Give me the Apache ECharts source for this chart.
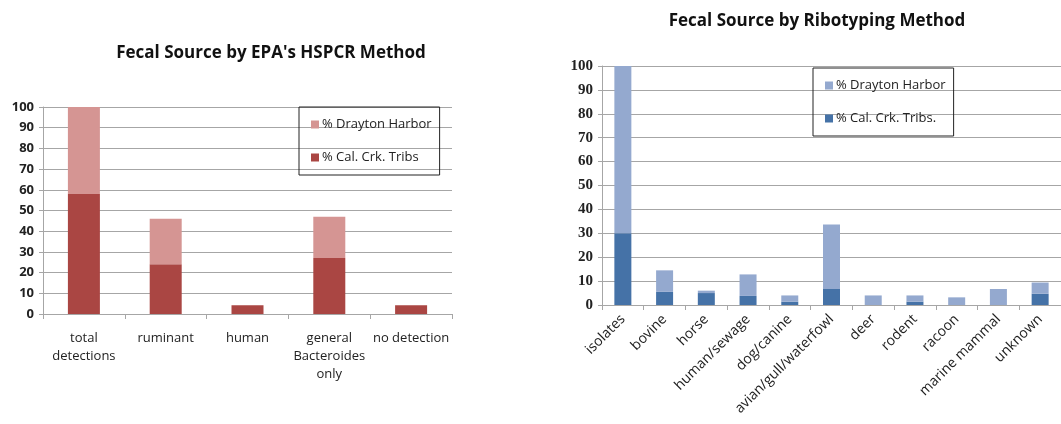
<!DOCTYPE html>
<html>
<head>
<meta charset="utf-8">
<script src="https://cdn.jsdelivr.net/npm/echarts@6/dist/echarts.min.js"></script>
<style>
  html, body { margin: 0; padding: 0; background: #fff; }
  #wrap { width: 1061px; height: 424px; position: relative; overflow: hidden; }
  #left { position: absolute; left: 0; top: 0; width: 530px; height: 424px; }
  #right { position: absolute; left: 530px; top: 0; width: 531px; height: 424px; }
</style>
</head>
<body>
<div id="wrap">
  <div id="left"></div>
  <div id="right"></div>
</div>
<script>
// left chart: EPA HSPCR
const hspcrCategories = ['total\ndetections', 'ruminant', 'human', 'general\nBacteroides\nonly', 'no detection']
const hspcrCalCrk = [58, 24, 4.2, 27, 4.2]
const hspcrDrayton = [42, 22, 0, 20, 0]

// right chart: ribotyping
const riboCategories = ['isolates', 'bovine', 'horse', 'human/sewage', 'dog/canine', 'avian/gull/waterfowl', 'deer', 'rodent', 'racoon', 'marine mammal', 'unknown']
const riboCalCrk = [30, 5.5, 5, 3.8, 1.4, 6.7, 0, 1.4, 0, 0, 4.7]
const riboDrayton = [70, 9, 1, 9, 2.6, 27, 4, 2.6, 3.2, 6.7, 4.7]

const yTicks = [0, 10, 20, 30, 40, 50, 60, 70, 80, 90, 100]

const sansFont = 'Open Sans'
const gridColor = '#a6a6a6'

// 共用的坐标轴样式
const makeY = (font, size) => ({
  type: 'value',
  min: yTicks[0],
  max: yTicks[yTicks.length - 1],
  interval: 10,
  axisLine: { show: true, lineStyle: { color: gridColor } },
  axisTick: { show: true, length: 4, lineStyle: { color: gridColor } },
  splitLine: { show: true, lineStyle: { color: gridColor, width: 1 } },
  axisLabel: { color: '#222', fontSize: size, fontFamily: font, fontWeight: 'bold', margin: 9 }
})

const makeLegend = (pos, names) => ({
  data: names,
  orient: 'vertical',
  left: pos.left,
  top: pos.top,
  borderColor: '#222',
  borderWidth: 1,
  padding: [11, 8, 11, 12],
  itemGap: 20,
  itemWidth: 8,
  itemHeight: 8,
  icon: 'rect',
  selectedMode: false,
  textStyle: { color: '#222', fontSize: 13, fontFamily: sansFont, padding: [0, 0, 0, -2] }
})

const leftChart = echarts.init(document.getElementById('left'))
leftChart.setOption({
  animation: false,
  title: {
    text: "Fecal Source by EPA's HSPCR Method",
    left: 266, top: 40, textAlign: 'center',
    textStyle: { fontSize: 17, fontWeight: 'bold', fontFamily: sansFont, color: '#111' }
  },
  legend: makeLegend({ left: 299, top: 107 }, ['% Drayton Harbor', '% Cal. Crk. Tribs']),
  grid: { left: 43, right: 78, top: 107, bottom: 110 },
  xAxis: {
    type: 'category',
    data: hspcrCategories,
    axisLine: { lineStyle: { color: gridColor } },
    axisTick: { show: true, length: 5, lineStyle: { color: gridColor } },
    axisLabel: { color: '#222', fontSize: 13, fontFamily: sansFont, margin: 15, lineHeight: 18, interval: 0 }
  },
  yAxis: makeY(sansFont, 13),
  series: [
    {
      name: '% Cal. Crk. Tribs', type: 'bar', stack: 'a', data: hspcrCalCrk,
      barWidth: 32, itemStyle: { color: '#AA4643' }
    },
    {
      name: '% Drayton Harbor', type: 'bar', stack: 'a', data: hspcrDrayton,
      barWidth: 32, itemStyle: { color: '#D59593' }
    }
  ]
})

const rightChart = echarts.init(document.getElementById('right'))
rightChart.setOption({
  animation: false,
  title: {
    text: 'Fecal Source by Ribotyping Method',
    left: 282, top: 8, textAlign: 'center',
    textStyle: { fontSize: 17, fontWeight: 'bold', fontFamily: sansFont, color: '#111' }
  },
  legend: makeLegend({ left: 283, top: 68 }, ['% Drayton Harbor', '% Cal. Crk. Tribs.']),
  grid: { left: 72, right: -4, top: 66, bottom: 119 },
  xAxis: {
    type: 'category',
    data: riboCategories,
    axisLine: { lineStyle: { color: gridColor } },
    axisTick: { show: true, length: 5, lineStyle: { color: gridColor } },
    axisLabel: { color: '#222', fontSize: 14, fontFamily: sansFont, rotate: 45, margin: 12, interval: 0 }
  },
  yAxis: makeY('Liberation Serif', 15),
  series: [
    {
      name: '% Cal. Crk. Tribs.', type: 'bar', stack: 'b', data: riboCalCrk,
      barWidth: 17, itemStyle: { color: '#4572A7' }
    },
    {
      name: '% Drayton Harbor', type: 'bar', stack: 'b', data: riboDrayton,
      barWidth: 17, itemStyle: { color: '#94A9CF' }
    }
  ]
})
</script>
</body>
</html>
